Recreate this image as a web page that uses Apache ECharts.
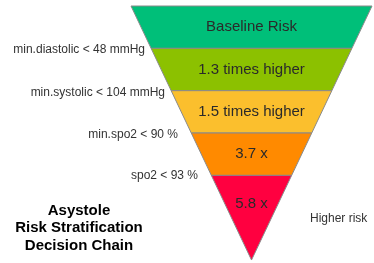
<!DOCTYPE html>
<html>
<head>
<meta charset="utf-8">
<script src="https://cdn.jsdelivr.net/npm/echarts@6/dist/echarts.min.js"></script>
<style>
    html, body { margin: 0; padding: 0; background: #fff; }
    #chart { width: 374px; height: 263px; }
</style>
</head>
<body>
<div id="chart"></div>
<script>
// 风险分层 - 各层文字与层宽
const levels = ['Baseline Risk', '1.3 times higher', '1.5 times higher', '3.7 x', '5.8 x'];
const levelWidth = [6, 5, 4, 3, 2];
const levelColors = ['#00BF79', '#8CC100', '#FBBF2D', '#FF8A00', '#FF0040'];
const conditions = ['min.diastolic < 48 mmHg', 'min.systolic < 104 mmHg', 'min.spo2 < 90 %', 'spo2 < 93 %'];
const titleLines = ['Asystole', 'Risk Stratification', 'Decision Chain'];

const FONT = '"Liberation Sans", Arial, Helvetica, sans-serif';

const chart = echarts.init(document.getElementById('chart'));

// 左侧条件文字位置 (右对齐)
const condPos = [[145, 50], [165, 93], [178, 135], [198, 176]];

const graphics = conditions.map((c, i) => ({
    type: 'text',
    x: condPos[i][0],
    y: condPos[i][1],
    style: {
        text: c,
        align: 'right',
        verticalAlign: 'middle',
        font: '12px ' + FONT,
        fill: '#333'
    }
}));

graphics.push({
    type: 'text',
    x: 79,
    y: 202,
    style: {
        text: titleLines.join('\n'),
        align: 'center',
        verticalAlign: 'top',
        lineHeight: 17.5,
        font: 'bold 15px ' + FONT,
        fill: '#000'
    }
});

graphics.push({
    type: 'text',
    x: 310,
    y: 219,
    style: {
        text: 'Higher risk',
        align: 'left',
        verticalAlign: 'middle',
        font: '12px ' + FONT,
        fill: '#333'
    }
});

const option = {
    animation: false,
    graphic: graphics,
    series: [{
        type: 'funnel',
        sort: 'none',
        left: 131,
        top: 6,
        width: 241,
        height: 254,
        gap: 0,
        min: 0,
        max: 6,
        minSize: '0%',
        maxSize: '100%',
        label: {
            show: true,
            position: 'inside',
            formatter: '{b}',
            fontFamily: FONT,
            fontSize: 15,
            color: '#2a2a2a'
        },
        labelLine: { show: false },
        itemStyle: {
            borderColor: '#8a8a8a',
            borderWidth: 1
        },
        emphasis: { disabled: true },
        data: levels.map((name, i) => {
            const last = i === levels.length - 1;
            const item = {
                name: name,
                value: levelWidth[i],
                itemStyle: {
                    color: levelColors[i],
                    height: last ? '33.33%' : '16.67%'
                }
            };
            // 三角形最后一层文字上移 (加一个空行)
            if (last) item.label = { formatter: '{b}\n ', lineHeight: 28 };
            return item;
        })
    }]
};

chart.setOption(option);
window.addEventListener('resize', () => chart.resize());
</script>
</body>
</html>
